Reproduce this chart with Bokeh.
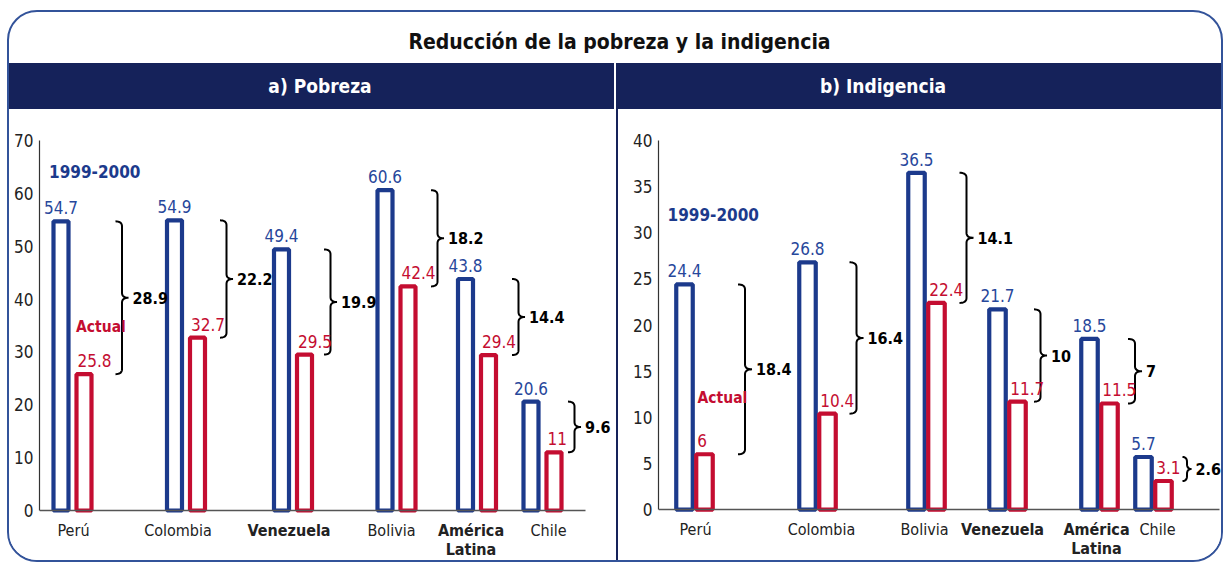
import numpy as np
from bokeh.plotting import figure
from bokeh.models import ColumnDataSource, Range1d, FixedTicker, LabelSet, Label, Div
from bokeh.layouts import column, row
from bokeh.transform import dodge
from bokeh.core.properties import value
from bokeh.embed import file_html
from bokeh.resources import INLINE

# ---------------- data ----------------
TITLE = "Reducción de la pobreza y la indigencia"
PANEL_A = "a) Pobreza"
PANEL_B = "b) Indigencia"
SERIES_OLD = "1999-2000"
SERIES_NEW = "Actual"

CAT_A = ["Perú", "Colombia", "Venezuela", "Bolivia", "América Latina", "Chile"]
POBREZA_1999 = [54.7, 54.9, 49.4, 60.6, 43.8, 20.6]
POBREZA_ACTUAL = [25.8, 32.7, 29.5, 42.4, 29.4, 11.0]
POBREZA_REDUCCION = [28.9, 22.2, 19.9, 18.2, 14.4, 9.6]
TICKS_A = [0, 10, 20, 30, 40, 50, 60, 70]

CAT_B = ["Perú", "Colombia", "Bolivia", "Venezuela", "América Latina", "Chile"]
INDIG_1999 = [24.4, 26.8, 36.5, 21.7, 18.5, 5.7]
INDIG_ACTUAL = [6.0, 10.4, 22.4, 11.7, 11.5, 3.1]
INDIG_REDUCCION = [18.4, 16.4, 14.1, 10.0, 7.0, 2.6]
TICKS_B = [0, 5, 10, 15, 20, 25, 30, 35, 40]

BOLD_CATS = {"Venezuela", "América Latina"}

# ---------------- layout / style ----------------
FONT = "DejaVu Sans Condensed"
NAVY = "#15225A"
BLUE = "#1C3A8C"
TXT_BLUE = "#27479B"
RED = "#C40D31"
BORDER = "#33539A"
DARK = "#222222"

SLOT_A = [33, 146.5, 253.5, 357, 437.5, 503]
LABEL_DX_A = [1, -8, -4, -5, -6, 6]
BRACE_A = [76, 180.5, 284.5, 391.5, 472.5, 528.5]
BRACE_W_A = [13, 13, 13, 13, 13, 13]
SLOT_B = [36, 159, 268, 349, 441, 495]
LABEL_DX_B = [1, 4, -2, -5, -3, 4]
BRACE_B = [79.5, 191, 301, 375.5, 469.5, 524]
BRACE_W_B = [14, 14, 14, 13, 14, 9]

FIG_H = 451
BASE_FROM_TOP = 370  # px from top of value range to the zero line


def fmt(v):
    return f"{v:g}"


def quad(p0, c, p1, n=10):
    t = np.linspace(0, 1, n)
    x = (1 - t) ** 2 * p0[0] + 2 * (1 - t) * t * c[0] + t ** 2 * p1[0]
    y = (1 - t) ** 2 * p0[1] + 2 * (1 - t) * t * c[1] + t ** 2 * p1[1]
    return list(x), list(y)


def brace(x0, w, yt, yb, ry):
    xm = x0 + w / 2.0
    xt = x0 + w
    ym = (yt + yb) / 2.0
    r = min(ry, (yt - yb) / 4.0)
    segs = [
        quad((x0, yt), (xm, yt), (xm, yt - r)),
        ([xm, xm], [yt - r, ym + r]),
        quad((xm, ym + r), (xm, ym), (xt, ym)),
        quad((xt, ym), (xm, ym), (xm, ym - r)),
        ([xm, xm], [ym - r, yb + r]),
        quad((xm, yb + r), (xm, yb), (x0, yb)),
    ]
    xs, ys = [], []
    for sx, sy in segs:
        xs += list(sx)
        ys += list(sy)
    return xs, ys


def make_panel(cats, v_old, v_new, v_red, ticks, width, mb_left, mb_top,
               slots, label_dx, braces, brace_w, bar_off, bar_w, axis_end,
               old_xy, new_xy):
    ymax = ticks[-1]
    xspan = width - mb_left           # one x unit = one pixel
    frame_h = FIG_H - mb_top
    ppy = BASE_FROM_TOP / ymax
    ymin = -(frame_h - BASE_FROM_TOP) / ppy

    p = figure(width=width, height=FIG_H, x_range=Range1d(0, xspan),
               y_range=Range1d(ymin, ymax), output_backend="svg",
               toolbar_location=None, min_border_left=mb_left,
               min_border_right=0, min_border_top=mb_top,
               min_border_bottom=0, margin=0)
    p.outline_line_color = None
    p.xgrid.visible = False
    p.ygrid.visible = False
    p.background_fill_color = "white"
    p.border_fill_color = "white"

    p.yaxis.ticker = FixedTicker(ticks=ticks, minor_ticks=[])
    p.yaxis.bounds = (0, ymax)
    p.yaxis.major_tick_line_color = None
    p.yaxis.minor_tick_line_color = None
    p.yaxis.major_tick_out = 0
    p.yaxis.major_tick_in = 0
    p.yaxis.major_label_standoff = 6
    p.yaxis.axis_line_color = "#333333"
    p.yaxis.axis_line_width = 1.2
    p.yaxis.major_label_text_font = FONT
    p.yaxis.major_label_text_font_size = "17px"
    p.yaxis.major_label_text_color = DARK

    p.xaxis.fixed_location = 0
    p.xaxis.bounds = (0, axis_end)
    p.xaxis.ticker = FixedTicker(ticks=[], minor_ticks=[])
    p.xaxis.major_tick_line_color = None
    p.xaxis.minor_tick_line_color = None
    p.xaxis.major_tick_out = 0
    p.xaxis.major_tick_in = 0
    p.xaxis.major_label_standoff = 0
    p.xaxis.major_label_text_font_size = "0px"
    p.xaxis.axis_line_color = "#555555"
    p.xaxis.axis_line_width = 1.5

    mids = [(a + b) / 2.0 for a, b in zip(v_old, v_new)]
    src = ColumnDataSource(dict(
        pos=slots, old=v_old, new=v_new,
        t_old=[fmt(v) for v in v_old], t_new=[fmt(v) for v in v_new],
        bx=[b + w for b, w in zip(braces, brace_w)], bm=mids,
        t_red=[fmt(v) for v in v_red],
    ))

    p.vbar(x=dodge("pos", -bar_off, range=p.x_range), top="old", bottom=0, width=bar_w,
           source=src, fill_color="white", line_color=BLUE, line_width=4.2)
    p.vbar(x=dodge("pos", bar_off, range=p.x_range), top="new", bottom=0, width=bar_w,
           source=src, fill_color="white", line_color=RED, line_width=4.2)

    p.add_layout(LabelSet(x="pos", y="old", text="t_old", source=src,
                          x_offset=-bar_off, y_offset=7, text_align="center",
                          text_baseline="alphabetic", text_color=TXT_BLUE,
                          text_font=value(FONT), text_font_size="17px"))
    red_left = bar_off - bar_w / 2.0 - 2 + 3
    p.add_layout(LabelSet(x="pos", y="new", text="t_new", source=src,
                          x_offset=red_left, y_offset=7, text_align="left",
                          text_baseline="alphabetic", text_color=RED,
                          text_font=value(FONT), text_font_size="17px"))

    bxs, bys = [], []
    for b, w, a, c in zip(braces, brace_w, v_old, v_new):
        xs, ys = brace(b, w, a, c, 5.0 / ppy)
        bxs.append(xs)
        bys.append(ys)
    p.multi_line(bxs, bys, line_color="black", line_width=2)
    p.add_layout(LabelSet(x="bx", y="bm", text="t_red", source=src,
                          x_offset=4, text_align="left", text_baseline="middle",
                          text_color="black", text_font=value(FONT),
                          text_font_style="bold", text_font_size="16px"))

    for c, s, dx in zip(cats, slots, label_dx):
        style = "bold" if c in BOLD_CATS else "normal"
        words = c.split(" ")
        for i, wd in enumerate(words):
            p.add_layout(Label(x=s + dx, y=0, y_offset=-20 - 19 * i, text=wd,
                               text_align="center", text_baseline="middle",
                               text_font=FONT, text_font_size="16px",
                               text_font_style=style, text_color=DARK))

    p.add_layout(Label(x=old_xy[0], y=old_xy[1], text=SERIES_OLD,
                       text_baseline="middle", text_font=FONT,
                       text_font_size="17px", text_font_style="bold",
                       text_color=BLUE))
    p.add_layout(Label(x=new_xy[0], y=new_xy[1], text=SERIES_NEW,
                       text_baseline="middle", text_font=FONT,
                       text_font_size="15.5px", text_font_style="bold",
                       text_color=RED))
    return p


p1 = make_panel(CAT_A, POBREZA_1999, POBREZA_ACTUAL, POBREZA_REDUCCION, TICKS_A,
                width=607, mb_left=30, mb_top=31,
                slots=SLOT_A, label_dx=LABEL_DX_A, braces=BRACE_A, brace_w=BRACE_W_A,
                bar_off=11.5, bar_w=15, axis_end=546,
                old_xy=(9.5, 64.1), new_xy=(36.5, 34.7))
p2 = make_panel(CAT_B, INDIG_1999, INDIG_ACTUAL, INDIG_REDUCCION, TICKS_B,
                width=603, mb_left=40, mb_top=30,
                slots=SLOT_B, label_dx=LABEL_DX_B, braces=BRACE_B, brace_w=BRACE_W_B,
                bar_off=10, bar_w=16.5, axis_end=561,
                old_xy=(9, 32.0), new_xy=(39, 12.1))

title_div = Div(text=TITLE, width=1212, height=51, margin=0,
                styles={"font-family": FONT, "font-weight": "bold",
                        "font-size": "21px", "color": "#111111",
                        "text-align": "center", "line-height": "60px",
                        "padding-left": "9px", "box-sizing": "border-box"})
hdr = {"background-color": NAVY, "color": "white", "font-family": FONT,
       "font-weight": "bold", "font-size": "19px", "line-height": "46px",
       "text-align": "center", "box-sizing": "border-box"}
hdr_a = Div(text=PANEL_A, width=605, height=46, margin=0,
            styles={**hdr, "padding-left": "17px"})
hdr_gap = Div(text="", width=2, height=46, margin=0)
hdr_b = Div(text=PANEL_B, width=605, height=46, margin=0,
            styles={**hdr, "padding-right": "71px"})
divider = Div(text="", width=2, height=FIG_H, margin=0,
              styles={"background-color": NAVY})

layout = column(
    title_div,
    row(hdr_a, hdr_gap, hdr_b, spacing=0),
    row(p1, divider, p2, spacing=0),
    spacing=0,
    margin=(10, 0, 0, 7),
    styles={"border": f"2px solid {BORDER}", "border-radius": "30px",
            "overflow": "hidden", "background-color": "white"},
)

open("out.html", "w").write(file_html(layout, INLINE))
